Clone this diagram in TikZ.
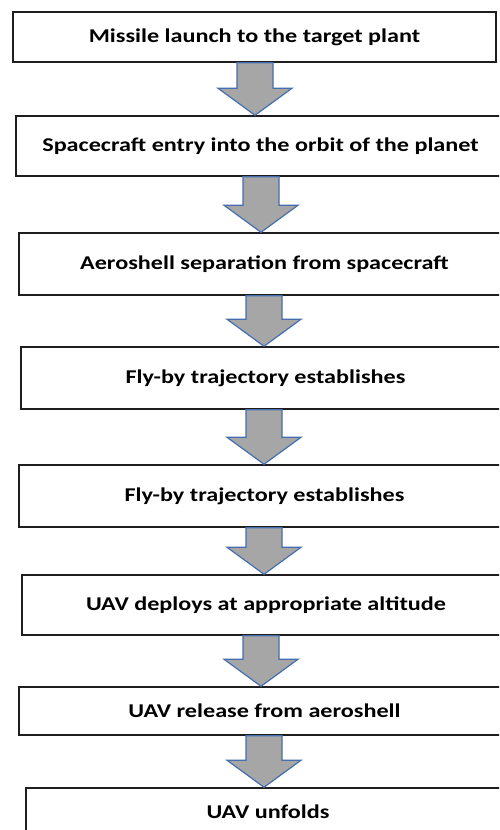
\documentclass[tikz,border=0pt]{standalone}
\usepackage{fontspec}
\setmainfont{Carlito}[FakeStretch=1.24]
\usetikzlibrary{calc}
\definecolor{arrfill}{RGB}{166,166,166}
\definecolor{arrline}{RGB}{70,110,175}
\definecolor{boxline}{RGB}{30,30,30}
\tikzset{
  box/.style={draw=boxline, line width=1.5pt, fill=white, font=\bfseries\fontsize{19.5}{22}\selectfont, inner sep=0pt},
  arr/.style={draw=arrline, fill=arrfill, line width=1.2pt, line join=miter}
}
\newcommand\flowarrow[3]{%
  \path let \p1=(#1.south), \p2=(#2.north) in
    [arr] ({#3pt-18pt},\y1) -- ({#3pt+18pt},\y1) -- ({#3pt+18pt},\y2+27pt) --
    ({#3pt+37pt},\y2+27pt) -- (#3pt,\y2) -- ({#3pt-37pt},\y2+27pt) --
    ({#3pt-18pt},\y2+27pt) -- cycle;}
\begin{document}
\begin{tikzpicture}[x=1pt,y=-1pt]
\clip (0,0) rectangle (499,830);
\fill[white] (0,0) rectangle (499,830);
\node[box, minimum width=483pt, minimum height=50pt] (b1) at (254.5,37) {Missile launch to the target plant};
\node[box, minimum width=489pt, minimum height=60pt] (b2) at (260.5,146) {Spacecraft entry into the orbit of the planet};
\node[box, minimum width=491pt, minimum height=62pt] (b3) at (264.5,264) {Aeroshell separation from spacecraft};
\node[box, minimum width=489pt, minimum height=62pt] (b4) at (265.5,378) {Fly-by trajectory establishes};
\node[box, minimum width=491pt, minimum height=62pt] (b5) at (264.5,496) {Fly-by trajectory establishes};
\node[box, minimum width=488pt, minimum height=60pt] (b6) at (266,605) {UAV deploys at appropriate altitude};
\node[box, minimum width=491pt, minimum height=48pt] (b7) at (264.5,711) {UAV release from aeroshell};
\node[box, minimum width=484pt, minimum height=48pt] (b8) at (268,812) {UAV unfolds};
\flowarrow{b1}{b2}{255}
\flowarrow{b2}{b3}{261}
\flowarrow{b3}{b4}{264}
\flowarrow{b4}{b5}{264}
\flowarrow{b5}{b6}{264}
\flowarrow{b6}{b7}{261}
\flowarrow{b7}{b8}{264}
\end{tikzpicture}
\end{document}
